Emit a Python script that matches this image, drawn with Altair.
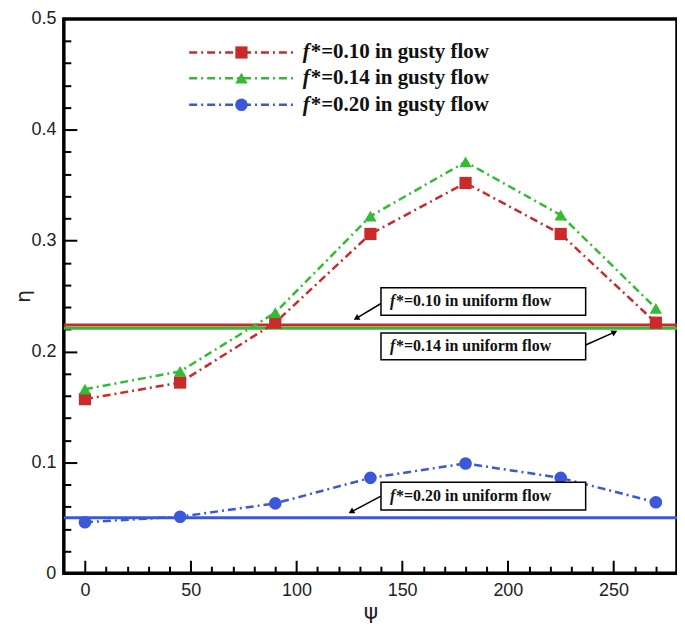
import altair as alt
import pandas as pd

# ---------------- data ----------------
psi = [0, 45, 90, 135, 180, 225, 270]
eta_f010 = [0.157, 0.172, 0.226, 0.306, 0.352, 0.306, 0.226]
eta_f014 = [0.166, 0.182, 0.235, 0.322, 0.371, 0.323, 0.239]
eta_f020 = [0.046, 0.051, 0.063, 0.086, 0.099, 0.086, 0.064]
series_keys = ["0.10", "0.14", "0.20"]
gusty_rest = ["*=0.10 in gusty flow", "*=0.14 in gusty flow", "*=0.20 in gusty flow"]
uniform_eta = [0.224, 0.221, 0.050]
uniform_rest = ["*=0.10 in uniform flow", "*=0.14 in uniform flow", "*=0.20 in uniform flow"]
x_major = [0, 50, 100, 150, 200, 250]
y_major = [0, 0.1, 0.2, 0.3, 0.4, 0.5]
x_ticks = list(range(0, 280, 10))
y_ticks = [round(0.02 * i, 2) for i in range(1, 25)]

# ---------------- style / layout ----------------
W, H = 615, 556
line_colors = ["#dc2c3c", "#45cc2e", "#2242e6"]
uniform_colors = ["#c92a2a", "#33bb33", "#3a58d8"]
shapes = ["square", "triangle-up", "circle"]
sizes = [150, 160, 240]

rows = []
for k, vals in zip(series_keys, [eta_f010, eta_f014, eta_f020]):
    for p, v in zip(psi, vals):
        rows.append({"psi": p, "eta": v, "s": k})
df = pd.DataFrame(rows)

df_u = pd.DataFrame({"eta": uniform_eta, "s": series_keys})

xscale = alt.Scale(domain=[-10, 280], nice=False, zero=False)
yscale = alt.Scale(domain=[0, 0.5], nice=False, zero=False)
cscale = alt.Scale(domain=series_keys, range=line_colors)
ucscale = alt.Scale(domain=series_keys, range=uniform_colors)
shscale = alt.Scale(domain=series_keys, range=shapes)
szscale = alt.Scale(domain=series_keys, range=sizes)

NOAX = None

# uniform-flow horizontal lines
hrules = alt.Chart(df_u).mark_rule(strokeWidth=3).encode(
    y=alt.Y("eta:Q", scale=yscale, axis=NOAX),
    color=alt.Color("s:N", scale=ucscale, legend=None),
)

# gusty-flow lines (carry the labelled axes)
lines = alt.Chart(df).mark_line(strokeWidth=2.5, strokeDash=[8, 4, 2, 4]).encode(
    x=alt.X("psi:Q", scale=xscale, axis=alt.Axis(
        values=x_major, ticks=False, domain=False, grid=False,
        labelFont="Liberation Sans", labelFontSize=18, labelColor="#222",
        labelPadding=8, title="ψ", titleFont="DejaVu Sans", titleFontSize=22,
        titleFontWeight="normal", titleColor="#222", titlePadding=2)),
    y=alt.Y("eta:Q", scale=yscale, axis=alt.Axis(
        values=y_major, format="~g", ticks=False, domain=False, grid=False,
        labelFont="Liberation Sans", labelFontSize=18, labelColor="#222",
        labelPadding=8, title="η", titleFont="DejaVu Sans", titleFontSize=20,
        titleFontWeight="normal", titleColor="#222", titlePadding=-3)),
    color=alt.Color("s:N", scale=cscale, legend=None),
    detail="s:N",
)

points = alt.Chart(df).mark_point(filled=True, opacity=1).encode(
    x=alt.X("psi:Q", scale=xscale, axis=NOAX),
    y=alt.Y("eta:Q", scale=yscale, axis=NOAX),
    color=alt.Color("s:N", scale=cscale, legend=None),
    shape=alt.Shape("s:N", scale=shscale, legend=None),
    size=alt.Size("s:N", scale=szscale, legend=None),
)

# inward ticks (axes placed inside the frame)
tick_df = pd.DataFrame({"psi": [0], "eta": [0]})
ticks = alt.Chart(tick_df).mark_point(opacity=0).encode(
    x=alt.X("psi:Q", scale=xscale, axis=alt.Axis(
        orient="top", offset=-H, values=x_ticks, labels=False, domain=False,
        grid=False, ticks=True, tickColor="black", tickWidth=2,
        tickSize={"condition": {"test": "datum.value % 50 === 0", "value": 13}, "value": 7},
        title=None)),
    y=alt.Y("eta:Q", scale=yscale, axis=alt.Axis(
        orient="right", offset=-W, values=y_ticks, labels=False, domain=False,
        grid=False, ticks=True, tickColor="black", tickWidth=2,
        tickSize={"condition": {"test": "abs(datum.value*10 - round(datum.value*10)) < 0.001", "value": 13}, "value": 7},
        title=None)),
)

# ---------------- legend (placed in data space) ----------------
leg_y = [0.4697, 0.4465, 0.4225]
leg_x1, leg_x2, leg_xm, leg_xt = 49.3, 98.7, 74.0, 103.0
leg_line_rows = []
for k, y in zip(series_keys, leg_y):
    leg_line_rows.append({"x": leg_x1, "y": y, "s": k})
    leg_line_rows.append({"x": leg_x2, "y": y, "s": k})
leg_lines_df = pd.DataFrame(leg_line_rows)
leg_pts_df = pd.DataFrame({"x": [leg_xm] * 3, "y": leg_y, "s": series_keys,
                           "rest": gusty_rest, "xt": [leg_xt] * 3})

leg_lines = alt.Chart(leg_lines_df).mark_line(strokeWidth=2.5, strokeDash=[8, 4, 2, 4]).encode(
    x=alt.X("x:Q", scale=xscale, axis=NOAX),
    y=alt.Y("y:Q", scale=yscale, axis=NOAX),
    color=alt.Color("s:N", scale=cscale, legend=None),
    detail="s:N",
)
leg_pts = alt.Chart(leg_pts_df).mark_point(filled=True, opacity=1).encode(
    x=alt.X("x:Q", scale=xscale, axis=NOAX),
    y=alt.Y("y:Q", scale=yscale, axis=NOAX),
    color=alt.Color("s:N", scale=cscale, legend=None),
    shape=alt.Shape("s:N", scale=shscale, legend=None),
    size=alt.Size("s:N", scale=szscale, legend=None),
)
leg_f = alt.Chart(leg_pts_df).mark_text(
    text="f", align="left", baseline="middle", font="Liberation Serif",
    fontSize=21, fontWeight="bold", fontStyle="italic", color="#111").encode(
    x=alt.X("xt:Q", scale=xscale, axis=NOAX),
    y=alt.Y("y:Q", scale=yscale, axis=NOAX),
)
leg_txt = alt.Chart(leg_pts_df).mark_text(
    align="left", baseline="middle", font="Liberation Serif", dx=8,
    fontSize=21, fontWeight="bold", color="#111").encode(
    x=alt.X("xt:Q", scale=xscale, axis=NOAX),
    y=alt.Y("y:Q", scale=yscale, axis=NOAX),
    text="rest:N",
)

# ---------------- annotation boxes with arrows ----------------
box_df = pd.DataFrame({
    "x1": [140.0, 140.0, 140.0], "x2": [236.8, 236.8, 236.8],
    "y1": [0.2576, 0.2166, 0.0820], "y2": [0.2326, 0.1925, 0.0570],
    "ty": [0.2451, 0.2045, 0.0695], "tx": [144.3, 144.3, 144.3],
    "rest": uniform_rest,
})
arrow_df = pd.DataFrame({
    "xa": [140.0, 236.8, 140.0], "ya": [0.2433, 0.2059, 0.0695],
    "xb": [128.3, 250.5, 125.9], "yb": [0.2299, 0.2175, 0.0553],
    "ang": [241.0, 63.0, 240.0],
})

boxes = alt.Chart(box_df).mark_rect(fill="white", stroke="black", strokeWidth=1.5).encode(
    x=alt.X("x1:Q", scale=xscale, axis=NOAX), x2="x2:Q",
    y=alt.Y("y1:Q", scale=yscale, axis=NOAX), y2="y2:Q",
)
box_f = alt.Chart(box_df).mark_text(
    text="f", align="left", baseline="middle", font="Liberation Serif",
    fontSize=16, fontWeight="bold", fontStyle="italic", color="#111").encode(
    x=alt.X("tx:Q", scale=xscale, axis=NOAX),
    y=alt.Y("ty:Q", scale=yscale, axis=NOAX),
)
box_txt = alt.Chart(box_df).mark_text(
    align="left", baseline="middle", font="Liberation Serif", dx=6,
    fontSize=16, fontWeight="bold", color="#111").encode(
    x=alt.X("tx:Q", scale=xscale, axis=NOAX),
    y=alt.Y("ty:Q", scale=yscale, axis=NOAX),
    text="rest:N",
)
shafts = alt.Chart(arrow_df).mark_rule(color="black", strokeWidth=1.5).encode(
    x=alt.X("xa:Q", scale=xscale, axis=NOAX), x2="xb:Q",
    y=alt.Y("ya:Q", scale=yscale, axis=NOAX), y2="yb:Q",
)
heads = alt.Chart(arrow_df).mark_point(shape="triangle-up", filled=True, size=45,
                                       color="black", opacity=1).encode(
    x=alt.X("xb:Q", scale=xscale, axis=NOAX),
    y=alt.Y("yb:Q", scale=yscale, axis=NOAX),
    angle=alt.Angle("ang:Q", scale=None),
)

chart = alt.layer(
    hrules, lines, points, ticks,
    leg_lines, leg_pts, leg_f, leg_txt,
    shafts, heads, boxes, box_f, box_txt,
).resolve_axis(x="independent", y="independent").properties(
    width=W, height=H,
    background="white",
    autosize=alt.AutoSizeParams(type="none"),
    padding={"left": 56, "top": 10, "right": 0, "bottom": 50},
).configure_view(stroke="black", strokeWidth=3.5)

chart.save("out.html", embed_options={"renderer": "svg", "actions": False})
